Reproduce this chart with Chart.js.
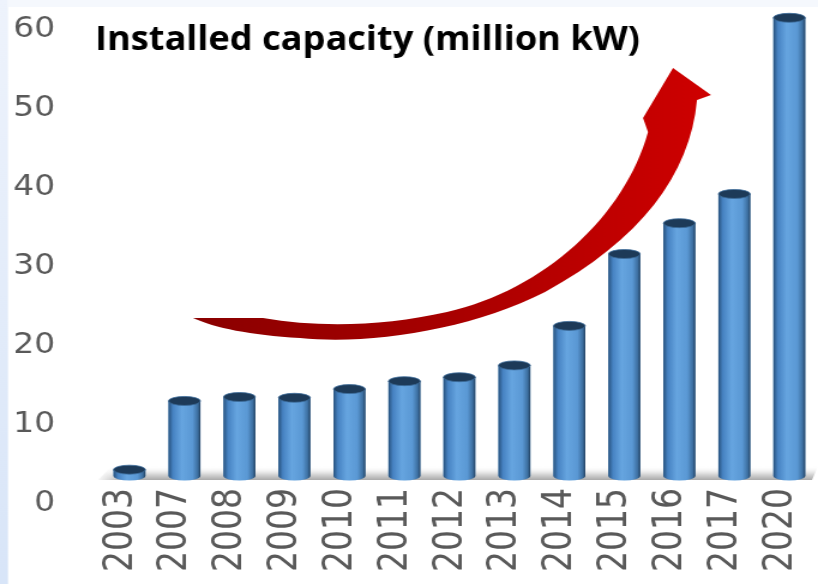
<!DOCTYPE html>
<html>
<head>
<meta charset="utf-8">
<script src="https://cdn.jsdelivr.net/npm/chart.js@4"></script>
<style>
  html, body { margin: 0; padding: 0; background: #fff; overflow: hidden; }
  #wrap { width: 682px; height: 584px; transform: scaleX(1.19941); transform-origin: 0 0; }
</style>
</head>
<body>
<div id="wrap"><canvas id="chart" width="682" height="584"></canvas></div>
<script>
const years = ['2003', '2007', '2008', '2009', '2010', '2011', '2012', '2013', '2014', '2015', '2016', '2017', '2020'];
const capacity = [0.8, 9.5, 10.0, 9.9, 11.0, 12.0, 12.5, 14.0, 19.0, 28.1, 32.0, 35.7, 58.0];
const yTicks = [0, 10, 20, 30, 40, 50, 60];
const titleText = 'Installed capacity (million kW)';

const S = 818 / 682; // page is stretched sideways like the original picture
const X = v => v / S;

const decor = {
    id: 'decor',
    beforeDraw(chart) {
        const ctx = chart.ctx;
        ctx.save();
        ctx.fillStyle = '#ffffff';
        ctx.fillRect(0, 0, chart.width, chart.height);
        let g = ctx.createLinearGradient(0, 0, 0, chart.height);
        g.addColorStop(0, '#eef3fc');
        g.addColorStop(1, '#d8e5f8');
        ctx.fillStyle = g;
        ctx.fillRect(0, 0, X(8), chart.height);
        ctx.fillStyle = '#f5f8fd';
        ctx.fillRect(X(8), 0, chart.width, 7);
        ctx.restore();
    },
    beforeDatasetsDraw(chart) {
        // floor of the 3d chart
        const ctx = chart.ctx;
        const base = chart.scales.y.getPixelForValue(0);
        ctx.save();
        const g = ctx.createLinearGradient(0, base - 10, 0, base + 4);
        g.addColorStop(0, 'rgba(255,255,255,0)');
        g.addColorStop(0.6, '#d6d6d6');
        g.addColorStop(1, '#a9a9a9');
        ctx.fillStyle = g;
        ctx.beginPath();
        ctx.moveTo(X(112), base - 10);
        ctx.lineTo(X(818), base - 10);
        ctx.lineTo(X(812), base + 4);
        ctx.lineTo(X(98), base + 4);
        ctx.closePath();
        ctx.fill();
        const fade = ctx.createLinearGradient(X(96), 0, X(125), 0);
        fade.addColorStop(0, 'rgba(255,255,255,1)');
        fade.addColorStop(1, 'rgba(255,255,255,0)');
        ctx.fillStyle = fade;
        ctx.fillRect(X(96), base - 11, X(30), 16);
        ctx.restore();
    },
    afterDatasetsDraw(chart) {
        const ctx = chart.ctx;
        const meta = chart.getDatasetMeta(0);
        ctx.save();
        meta.data.forEach(bar => {
            const w = bar.width, l = bar.x - w / 2, r = bar.x + w / 2;
            const top = bar.y, base = bar.base, ry = 4.5;
            const g = ctx.createLinearGradient(l, 0, r, 0);
            g.addColorStop(0, '#27517c');
            g.addColorStop(0.14, '#4682c2');
            g.addColorStop(0.42, '#66a5e0');
            g.addColorStop(0.75, '#5a98d4');
            g.addColorStop(0.92, '#3c6e9f');
            g.addColorStop(1, '#213f5e');
            ctx.fillStyle = g;
            ctx.beginPath();
            ctx.moveTo(l, top);
            ctx.lineTo(l, base);
            ctx.ellipse(bar.x, base, w / 2, ry, 0, Math.PI, 0, true);
            ctx.lineTo(r, top);
            ctx.closePath();
            ctx.fill();
            ctx.beginPath();
            ctx.ellipse(bar.x, top, w / 2, ry, 0, 0, Math.PI * 2);
            ctx.fillStyle = '#1d3a58';
            ctx.fill();
            ctx.strokeStyle = '#3d6d9c';
            ctx.lineWidth = 0.8;
            ctx.stroke();
        });
        ctx.restore();
    },
    afterDraw(chart) {
        const ctx = chart.ctx;
        ctx.save();
        // red growth arrow
        const g = ctx.createLinearGradient(X(193), 0, X(712), 0);
        g.addColorStop(0, '#8a0000');
        g.addColorStop(0.5, '#a80000');
        g.addColorStop(1, '#cf0000');
        ctx.fillStyle = g;
        ctx.beginPath();
        ctx.moveTo(X(193), 318);
        ctx.lineTo(X(263), 318);
        ctx.bezierCurveTo(X(320), 328, X(385), 326, X(447), 312);
        ctx.bezierCurveTo(X(545), 290, X(625), 215, X(648), 132);
        ctx.lineTo(X(643), 118);
        ctx.lineTo(X(673), 68);
        ctx.lineTo(X(711), 95);
        ctx.lineTo(X(697), 100);
        ctx.bezierCurveTo(X(690), 175, X(640), 240, X(545), 292);
        ctx.bezierCurveTo(X(470), 330, X(370), 345, X(300), 338);
        ctx.bezierCurveTo(X(250), 335, X(215), 328, X(193), 318);
        ctx.closePath();
        ctx.fill();
        // title
        ctx.fillStyle = '#000000';
        ctx.font = 'bold 34px "Open Sans"';
        ctx.textBaseline = 'alphabetic';
        ctx.textAlign = 'left';
        ctx.fillText(titleText, X(95), 50, X(545));
        ctx.restore();
    }
};

new Chart(document.getElementById('chart'), {
    type: 'bar',
    data: {
        labels: years,
        datasets: [{
            data: capacity,
            backgroundColor: '#5b9bd5',
            borderWidth: 0,
            barPercentage: 0.58,
            categoryPercentage: 1
        }]
    },
    options: {
        responsive: false,
        devicePixelRatio: 1,
        animation: false,
        layout: { padding: { top: 2, right: 1, left: 0, bottom: 0 } },
        plugins: { legend: { display: false }, tooltip: { enabled: false } },
        scales: {
            x: {
                grid: { display: false, drawTicks: false },
                border: { display: false },
                ticks: {
                    color: '#595959',
                    font: { family: 'DejaVu Sans', size: 33 },
                    minRotation: 90,
                    maxRotation: 90,
                    padding: 12,
                    labelOffset: -7
                },
                afterFit(scale) {
                    scale.height = 108;
                    scale.paddingLeft = 0;
                    scale.paddingRight = 0;
                }
            },
            y: {
                min: 0,
                max: 60,
                grid: { display: false, drawTicks: false },
                border: { display: false },
                ticks: {
                    color: '#595959',
                    font: { family: 'DejaVu Sans', size: 27.5 },
                    padding: 39,
                    labelOffset: 28
                },
                afterBuildTicks(scale) { scale.ticks = yTicks.map(v => ({ value: v })); },
                afterFit(scale) {
                    scale.width = 85;
                    scale.paddingTop = 0;
                    scale.paddingBottom = 0;
                }
            }
        }
    },
    plugins: [decor]
});
</script>
</body>
</html>
